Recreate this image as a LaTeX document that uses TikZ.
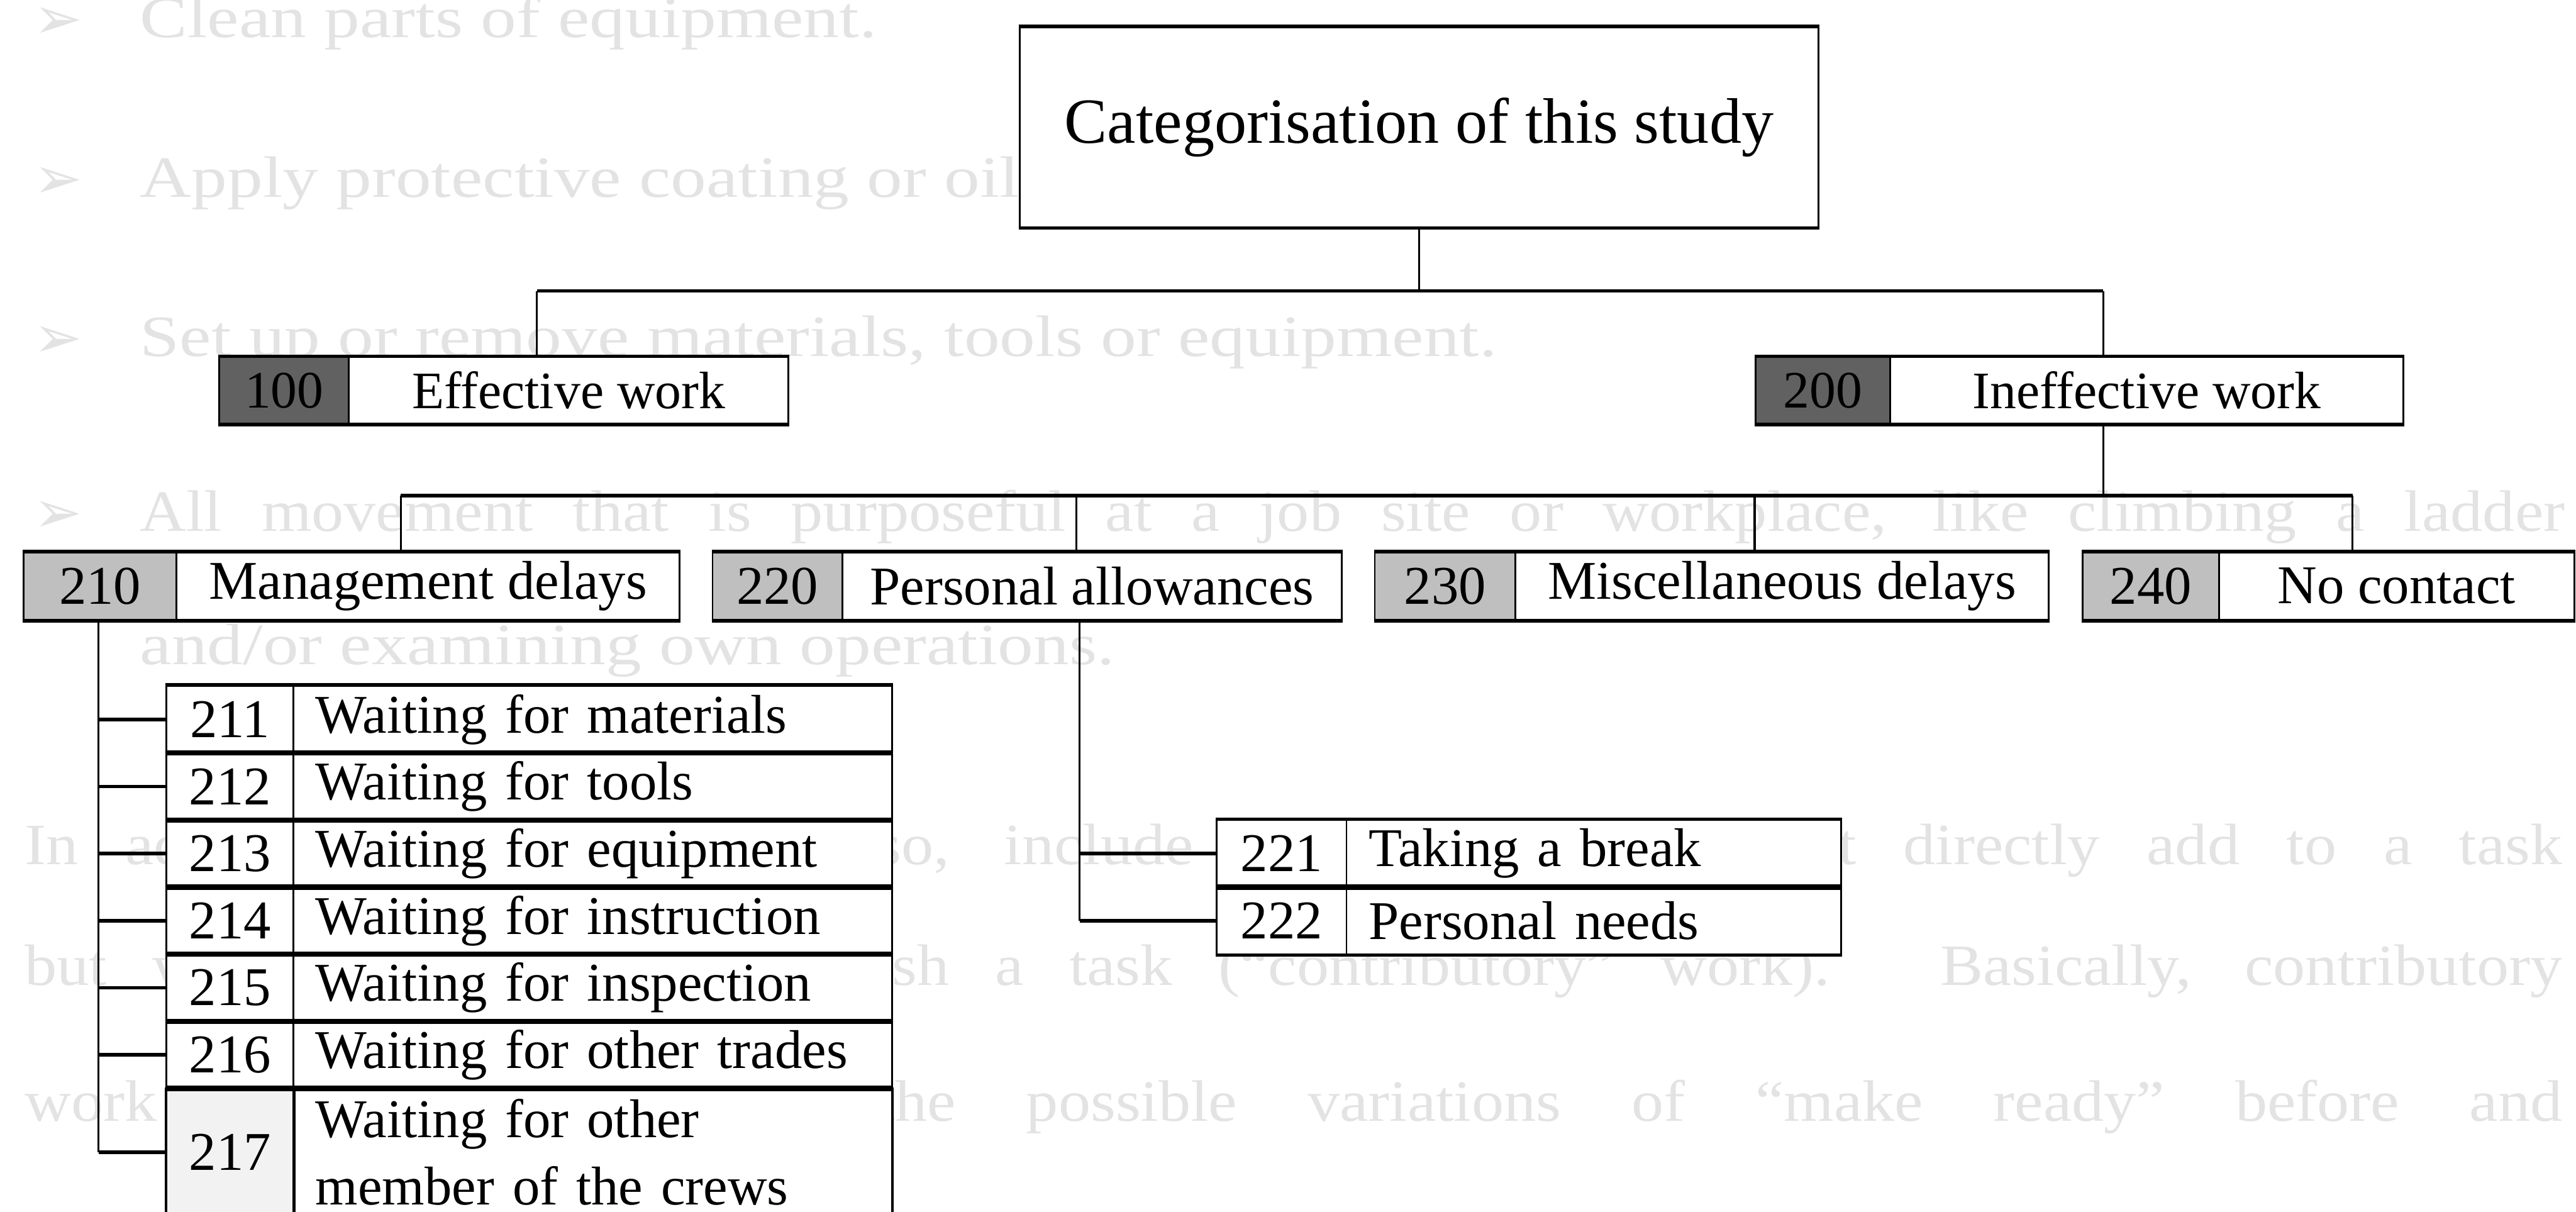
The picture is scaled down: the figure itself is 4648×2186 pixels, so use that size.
\documentclass[tikz,border=0pt]{standalone}
\usepackage{fontspec}
\usepackage{graphicx}
\setmainfont{Liberation Serif}
\newfontfamily\dejavu{DejaVu Sans}
\newcommand\widetext[1]{\scalebox{1.22}[1]{#1}}
\newcommand\justline[2]{\scalebox{1.1}[1]{\makebox[#1][s]{#2}}}
\begin{document}
\begin{tikzpicture}[x=0.01cm,y=-0.01cm,
  box/.style={draw=black, line width=0.9pt, fill=white, inner sep=0pt, anchor=north west,
    font=\fontsize{28}{34.4}\selectfont},
  lvl2/.style={box, minimum height=1.20cm, font=\fontsize{27}{32}\selectfont},
  lvl3/.style={box, minimum height=1.22cm},
  darkcode/.style={lvl2, fill=black!62},
  lightcode/.style={lvl3, fill=black!25},
  subcode/.style={box, minimum width=2.29cm, minimum height=1.21cm},
  subitem/.style={box, text width=9.99cm, inner xsep=0.40cm, align=left, minimum height=1.21cm},
  hline/.style={line width=1.8pt},
  vline/.style={line width=1pt},
  faded/.style={anchor=west, inner sep=0pt, text=black!11, font=\fontsize{30}{36}\selectfont}
]
\useasboundingbox (0,0) rectangle (4648,2186);
\fill[white] (0,0) rectangle (4648,2186);

% faint show-through text of the scanned page
\node[faded] (bg1a) at (60,42) {\dejavu ➢};
\node[faded] (bg1) at (252,42) {\widetext{Clean parts of equipment.}};
\node[faded] (bg2a) at (60,330) {\dejavu ➢};
\node[faded] (bg2) at (252,330) {\widetext{Apply protective coating or oil of parts for storage.}};
\node[faded] (bg3a) at (60,617) {\dejavu ➢};
\node[faded] (bg3) at (252,617) {\widetext{Set up or remove materials, tools or equipment.}};
\node[faded] (bg4a) at (60,933) {\dejavu ➢};
\node[faded] (bg4) at (252,933) {\justline{39.75cm}{All movement that is purposeful at a job site or workplace, like climbing a ladder}};
\node[faded] (bg5) at (252,1174) {\widetext{and/or examining own operations.}};
\node[faded] (bg6) at (44,1534) {\justline{41.6cm}{In addition to the above, also, include activities that do not directly add to a task}};
\node[faded] (bg7) at (44,1752) {\justline{41.6cm}{but which are needed to finish a task (“contributory” work). Basically, contributory}};
\node[faded] (bg8) at (44,1997) {\justline{41.6cm}{work activities cover all the possible variations of “make ready” before and}};

% top
\node[box, minimum width=14.41cm, minimum height=3.60cm, font=\fontsize{33}{40}\selectfont] (T) at (1838,48) {Categorisation of this study};

% level 2
\node[darkcode, minimum width=2.34cm] (c100) at (394,643) {100};
\node[lvl2, minimum width=7.92cm] (n100) at (628,643) {Effective work};
\node[darkcode, minimum width=2.43cm] (c200) at (3166,643) {200};
\node[lvl2, minimum width=9.25cm] (n200) at (3409,643) {Ineffective work};

% level 3
\node[lightcode, minimum width=2.76cm] (c210) at (41,995) {210};
\node[lvl3, minimum width=9.07cm] (n210) at (317,995) {Management delays};
\node[lightcode, minimum width=2.34cm] (c220) at (1284,995) {220};
\node[lvl3, minimum width=9.01cm] (n220) at (1518,995) {Personal allowances};
\node[lightcode, minimum width=2.54cm] (c230) at (2479,995) {230};
\node[lvl3, minimum width=9.61cm] (n230) at (2733,995) {Miscellaneous delays};
\node[lightcode, minimum width=2.46cm] (c240) at (3756,995) {240};
\node[lvl3, minimum width=6.41cm] (n240) at (4002,995) {No contact};

% management delay items
\node[subcode] (c211) at (299,1236) {211};
\node[subitem] (n211) at (528,1236) {Waiting for materials};
\node[subcode] (c212) at (299,1357) {212};
\node[subitem] (n212) at (528,1357) {Waiting for tools};
\node[subcode] (c213) at (299,1478) {213};
\node[subitem] (n213) at (528,1478) {Waiting for equipment};
\node[subcode] (c214) at (299,1599) {214};
\node[subitem] (n214) at (528,1599) {Waiting for instruction};
\node[subcode] (c215) at (299,1720) {215};
\node[subitem] (n215) at (528,1720) {Waiting for inspection};
\node[subcode] (c216) at (299,1841) {216};
\node[subitem] (n216) at (528,1841) {Waiting for other trades};
\node[subcode, minimum height=2.30cm, fill=black!5] (c217) at (299,1962) {217};
\node[subitem, minimum height=2.30cm] (n217) at (528,1962) {Waiting for other\\member of the crews};

% personal allowance items
\node[subcode, minimum width=2.34cm] (c221) at (2194,1478) {221};
\node[subitem, text width=8.12cm] (n221) at (2428,1478) {Taking a break};
\node[subcode, minimum width=2.34cm] (c222) at (2194,1599) {222};
\node[subitem, text width=8.12cm] (n222) at (2428,1599) {Personal needs};

% heavier horizontal box edges (as printed)
\foreach \n in {T,c100,n100,c200,n200,c210,n210,c220,n220,c230,n230,c240,n240,
  c211,n211,c212,n212,c213,n213,c214,n214,c215,n215,c216,n216,c221,n221,c222,n222}{
  \draw[hline] (\n.north west) -- (\n.north east) (\n.south west) -- (\n.south east);
}
\draw[hline] (c217.north west) -- (n217.north east);
% the 217 row runs past the lower edge of the page
\draw[line width=0.9pt] (c217.north west) -- ++(0,300) (c217.north east) -- ++(0,300) (n217.north east) -- ++(0,300);

% connectors: top -> level 2
\coordinate (bA) at (969,525);
\coordinate (bB) at (3795,525);
\draw[vline] (T.south) -- (T.south |- bA);
\draw[hline] (bA) -- (bB);
\draw[vline] (bA) -- (bA |- n100.north);
\draw[vline] (bB) -- (bB |- n200.north);

% 200 -> level 3
\coordinate (bL) at (723,894);
\coordinate (bR) at (4245,894);
\coordinate (bP) at (1942,894);
\coordinate (bM) at (3166,894);
\draw[vline] (bB |- n200.south) -- (bB |- bL);
\draw[hline] (bL) -- (bR);
\draw[vline] (bL) -- (bL |- n210.north);
\draw[vline] (bP) -- (bP |- n220.north);
\draw[vline] (bM) -- (bM |- n230.north);
\draw[vline] (bR) -- (bR |- n240.north);

% 210 -> items
\coordinate (sx) at (178,1117);
\draw[vline] (sx) -- (sx |- c217.west);
\foreach \k in {211,212,213,214,215,216,217}{
  \draw[hline] (sx |- c\k.west) -- (c\k.west);
}

% 220 -> items
\coordinate (px) at (1948,1117);
\draw[vline] (px) -- (px |- c222.west);
\foreach \k in {221,222}{
  \draw[hline] (px |- c\k.west) -- (c\k.west);
}
\end{tikzpicture}
\end{document}
